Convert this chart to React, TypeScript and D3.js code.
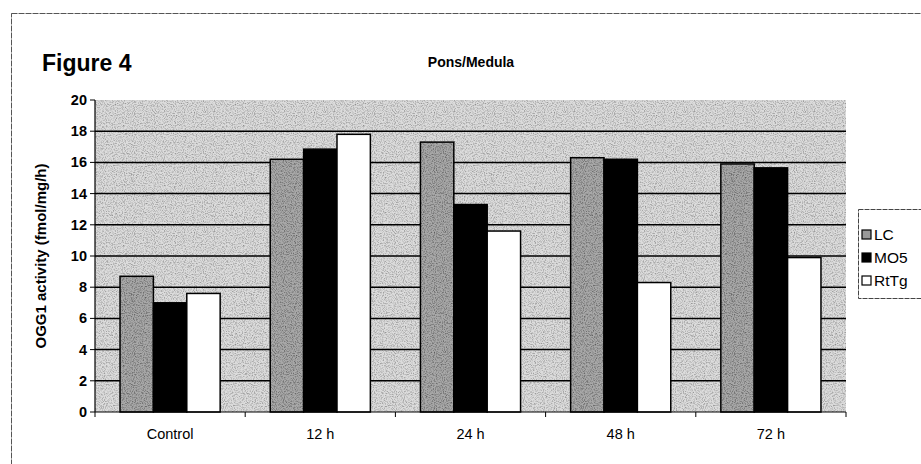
import React from "react";
import * as d3 from "d3";

const categories = ["Control", "12 h", "24 h", "48 h", "72 h"];
const seriesNames = ["LC", "MO5", "RtTg"];
const lcValues = [8.7, 16.2, 17.3, 16.3, 15.9];
const mo5Values = [7.0, 16.85, 13.3, 16.2, 15.65];
const rttgValues = [7.6, 17.8, 11.6, 8.3, 9.9];
const yTicks = [0, 2, 4, 6, 8, 10, 12, 14, 16, 18, 20];

const fills = ["url(#lcPat)", "#000000", "#ffffff"];
const FONT = "'Liberation Sans', Arial, sans-serif";

export default function App() {
  const W = 921, H = 464;
  const left = 95, right = 846, top = 100, bottom = 412;
  const x = d3.scaleBand<string>().domain(categories).range([left, right]).paddingInner(0).paddingOuter(0);
  const inner = d3.scaleBand<string>().domain(seriesNames).range([0, x.bandwidth()]).paddingInner(0).paddingOuter(0.75);
  const y = d3.scaleLinear().domain([0, 20]).range([bottom, top]);
  const series = [lcValues, mo5Values, rttgValues];

  return (
    <svg width={W} height={H} style={{ position: "absolute", left: 0, top: 0 }}>
      <defs>
        <filter id="noise" x="0" y="0" width="100%" height="100%">
          <feTurbulence type="fractalNoise" baseFrequency="0.9" numOctaves="2" seed="3" result="t" />
          <feColorMatrix type="matrix" values="0 0 0 0 0  0 0 0 0 0  0 0 0 0 0  0 0 0 -2.2 1.25" />
        </filter>
        <pattern id="bgPat" width="120" height="120" patternUnits="userSpaceOnUse">
          <rect width="120" height="120" fill="#dcdcdc" />
          <rect width="120" height="120" fill="#000" filter="url(#noise)" opacity="0.35" />
        </pattern>
        <pattern id="lcPat" width="120" height="120" patternUnits="userSpaceOnUse">
          <rect width="120" height="120" fill="#a8a8a8" />
          <rect width="120" height="120" fill="#000" filter="url(#noise)" opacity="0.45" />
        </pattern>
      </defs>
      <rect x={0} y={0} width={W} height={H} fill="#fff" />
      <rect x={11.5} y={13.5} width={W + 10} height={H} fill="none" stroke="#555" strokeWidth={1} strokeDasharray="6 1" />

      <text x={471} y={67} textAnchor="middle" fontFamily={FONT} fontWeight="bold" fontSize={14}>Pons/Medula</text>
      <text x={42} y={71} fontFamily={FONT} fontWeight="bold" fontSize={23}>Figure 4</text>

      <rect x={left} y={top} width={right - left} height={bottom - top} fill="url(#bgPat)" />
      {yTicks.filter(t => t > 0 && t < 20).map(t => (
        <line key={"g" + t} x1={left} x2={right} y1={y(t)} y2={y(t)} stroke="#000" strokeWidth={1.5} />
      ))}

      {categories.map((c, i) => (
        <g key={c}>
          {series.map((vals, s) => (
            <rect key={s}
              x={(x(c) as number) + (inner(seriesNames[s]) as number)}
              y={y(vals[i])}
              width={inner.bandwidth()}
              height={bottom - y(vals[i])}
              fill={fills[s]} stroke="#000" strokeWidth={1.5} />
          ))}
        </g>
      ))}

      <line x1={left} x2={left} y1={top} y2={bottom} stroke="#000" strokeWidth={1.2} />
      <line x1={left} x2={right} y1={bottom} y2={bottom} stroke="#000" strokeWidth={1.2} />
      {yTicks.map(t => (
        <g key={"t" + t}>
          <line x1={left - 5} x2={left} y1={y(t)} y2={y(t)} stroke="#000" strokeWidth={1} />
          <text x={left - 8} y={y(t) + 5} textAnchor="end" fontFamily={FONT} fontWeight="bold" fontSize={14.5}>{t}</text>
        </g>
      ))}
      {[...categories.map(c => x(c) as number), right].map((px, i) => (
        <line key={"xt" + i} x1={px} x2={px} y1={bottom} y2={bottom + 5} stroke="#000" strokeWidth={1} />
      ))}
      {categories.map(c => (
        <text key={"xl" + c} x={(x(c) as number) + x.bandwidth() / 2} y={439} textAnchor="middle" fontFamily={FONT} fontSize={14.5}>{c}</text>
      ))}
      <text transform={`translate(46,256) rotate(-90)`} textAnchor="middle" fontFamily={FONT} fontWeight="bold" fontSize={15}>OGG1 activity (fmol/mg/h)</text>

      <rect x={858.5} y={209.5} width={80} height={89} fill="#fff" stroke="#444" strokeWidth={1} strokeDasharray="5 1" />
      {seriesNames.map((n, s) => (
        <g key={"lg" + n}>
          <rect x={862} y={230 + s * 23} width={9} height={9} fill={s === 0 ? "#999" : fills[s]} stroke="#000" strokeWidth={1.2} />
          <text x={874} y={240 + s * 23} fontFamily={FONT} fontSize={15.5}>{n}</text>
        </g>
      ))}
    </svg>
  );
}
